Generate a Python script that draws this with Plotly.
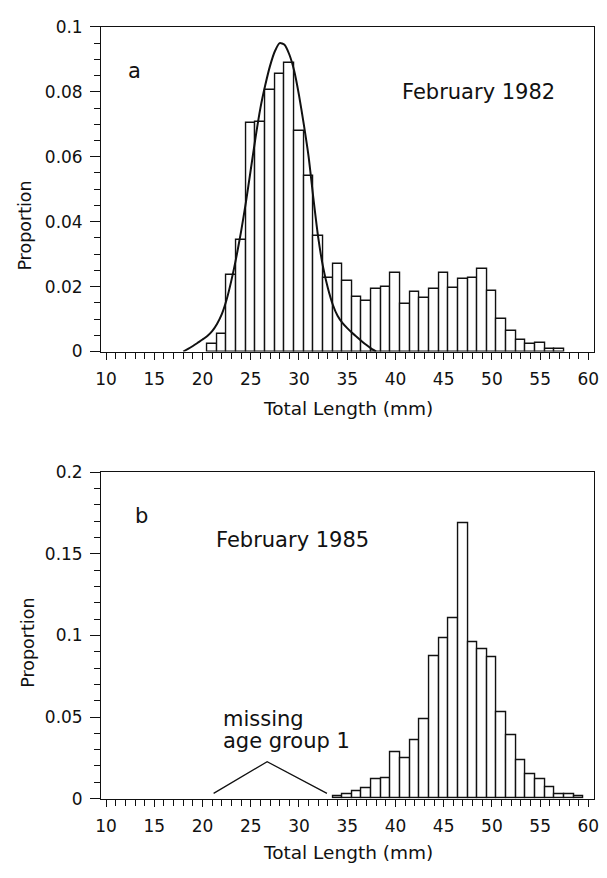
import plotly.graph_objects as go

# ---------------- data ----------------
# Panel a: February 1982
lengths_a = list(range(21, 58))
props_a = [0.0025, 0.0055, 0.0235, 0.0343, 0.0703, 0.0708, 0.0806, 0.0856, 0.0888, 0.0681,
           0.054, 0.0355, 0.0226, 0.027, 0.0219, 0.0169, 0.0155, 0.0193, 0.0198, 0.0242,
           0.0148, 0.0183, 0.0165, 0.0193, 0.0242, 0.0195, 0.0225, 0.0228, 0.0255, 0.0188,
           0.010, 0.0065, 0.0035, 0.0025, 0.0027, 0.0009, 0.0007]
# fitted curve for age group 1 (every 0.5 mm)
curve_x = [18.0, 18.5, 19.0, 19.5, 20.0, 20.5, 21.0, 21.5, 22.0, 22.5, 23.0, 23.5, 24.0,
           24.5, 25.0, 25.5, 26.0, 26.5, 27.0, 27.5, 28.0, 28.5, 29.0, 29.5, 30.0, 30.5,
           31.0, 31.5, 32.0, 32.5, 33.0, 33.5, 34.0, 34.5, 35.0, 35.5, 36.0, 36.5, 37.0,
           37.5, 38.0]
curve_y = [0.0, 0.0008, 0.0017, 0.0027, 0.0037, 0.0048, 0.0063, 0.0085, 0.0115, 0.016,
           0.022, 0.029, 0.037, 0.046, 0.056, 0.066, 0.075, 0.082, 0.088, 0.0925, 0.095,
           0.0945, 0.0915, 0.0865, 0.079, 0.070, 0.060, 0.047, 0.035, 0.026, 0.0195, 0.0145,
           0.011, 0.0088, 0.0072, 0.0058, 0.0045, 0.0032, 0.002, 0.0009, 0.0]

# Panel b: February 1985
lengths_b = list(range(34, 60))
props_b = [0.0012, 0.0026, 0.0048, 0.0066, 0.0116, 0.0122, 0.0287, 0.0245, 0.0355, 0.0487,
           0.087, 0.0984, 0.1104, 0.169, 0.0956, 0.0914, 0.0866, 0.0527, 0.0391, 0.0238,
           0.0152, 0.0116, 0.0072, 0.0028, 0.0028, 0.0012]
# "missing age group 1" marker
marker_x = [21.15, 26.7, 32.9]
marker_y = [0.0032, 0.0226, 0.0032]

x_ticks = [10, 15, 20, 25, 30, 35, 40, 45, 50, 55, 60]
y_ticks_a = [0, 0.02, 0.04, 0.06, 0.08, 0.1]
y_ticklabels_a = ["0", "0.02", "0.04", "0.06", "0.08", "0.1"]
y_ticks_b = [0, 0.05, 0.1, 0.15, 0.2]
y_ticklabels_b = ["0", "0.05", "0.1", "0.15", "0.2"]

# ---------------- figure ----------------
W, H = 607, 878
FONT = "DejaVu Sans"
INK = "#111111"

fig = go.Figure()

bar_style = dict(marker=dict(color="white", line=dict(color=INK, width=1.4)),
                 width=1.0, showlegend=False, hoverinfo="x+y")

fig.add_trace(go.Bar(x=lengths_a, y=props_a, xaxis="x", yaxis="y", **bar_style))
fig.add_trace(go.Scatter(x=curve_x, y=curve_y, xaxis="x", yaxis="y", mode="lines",
                         line=dict(color=INK, width=2, shape="spline", smoothing=0.6),
                         showlegend=False))
fig.add_trace(go.Bar(x=lengths_b, y=props_b, xaxis="x2", yaxis="y2", **bar_style))
fig.add_trace(go.Scatter(x=marker_x, y=marker_y, xaxis="x2", yaxis="y2", mode="lines",
                         line=dict(color=INK, width=1.3), showlegend=False))

x0, x1 = 97 / W, 599 / W
ya = (1 - 349.5 / H, 1 - 17.3 / H)
yb = (1 - 807 / H, 1 - 473 / H)

tickfont = dict(family=FONT, size=17, color=INK)

def xaxis_cfg(anchor, domain_y):
    return dict(domain=[x0, x1], anchor=anchor, range=[9.5, 60.6],
                tickvals=x_ticks, ticks="outside", ticklen=7, tickwidth=1, tickcolor=INK,
                minor=dict(dtick=1, tick0=0, ticks="outside", ticklen=6, tickcolor=INK, tickwidth=1),
                showline=True, linecolor=INK, linewidth=1.3, mirror=True,
                showgrid=False, zeroline=False, tickfont=tickfont,
                ticklabelstandoff=5, fixedrange=True)

def yaxis_cfg(anchor, domain, rng, tv, tt, minor_dtick):
    return dict(domain=list(domain), anchor=anchor, range=rng,
                tickvals=tv, ticktext=tt, ticks="outside", ticklen=10, tickwidth=1, tickcolor=INK,
                minor=dict(dtick=minor_dtick, tick0=0, ticks="outside", ticklen=6, tickcolor=INK, tickwidth=1),
                showline=True, linecolor=INK, linewidth=1.3, mirror=True,
                showgrid=False, zeroline=False, tickfont=tickfont,
                ticklabelstandoff=4, fixedrange=True)

fig.update_layout(
    width=W, height=H,
    margin=dict(l=0, r=0, t=0, b=0),
    paper_bgcolor="white", plot_bgcolor="white",
    bargap=0,
    xaxis=xaxis_cfg("y", ya),
    yaxis=yaxis_cfg("x", ya, [0, 0.1], y_ticks_a, y_ticklabels_a, 0.005),
    xaxis2=xaxis_cfg("y2", yb),
    yaxis2=yaxis_cfg("x2", yb, [0, 0.2], y_ticks_b, y_ticklabels_b, 0.01),
    font=dict(family=FONT, color=INK),
)

def ann(text, x, y, xref, yref, size, xanchor="center", yanchor="middle", angle=0):
    fig.add_annotation(text=text, x=x, y=y, xref=xref, yref=yref, showarrow=False,
                       xanchor=xanchor, yanchor=yanchor, textangle=angle,
                       font=dict(family=FONT, size=size, color=INK))

# panel labels and in-plot text
ann("a", 12.95, 0.0865, "x", "y", 21)
ann("February 1982", 40.45, 0.0799, "x", "y", 21, xanchor="left")
ann("b", 13.67, 0.173, "x2", "y2", 21)
ann("February 1985", 21.2, 0.1584, "x2", "y2", 21, xanchor="left")
ann("missing", 21.9, 0.049, "x2", "y2", 21, xanchor="left")
ann("age group 1", 21.9, 0.0353, "x2", "y2", 21, xanchor="left")

# axis titles
ann("Total Length (mm)", (x0 + x1) / 2, 1 - 408 / H, "paper", "paper", 18.5)
ann("Total Length (mm)", (x0 + x1) / 2, 1 - 862 / H, "paper", "paper", 18.5)
ann("Proportion", 19 / W, 1 - 221 / H, "paper", "paper", 17.5, angle=-90)
ann("Proportion", 23 / W, 1 - 648 / H, "paper", "paper", 17.5, angle=-90)

fig.write_html("out.html")
